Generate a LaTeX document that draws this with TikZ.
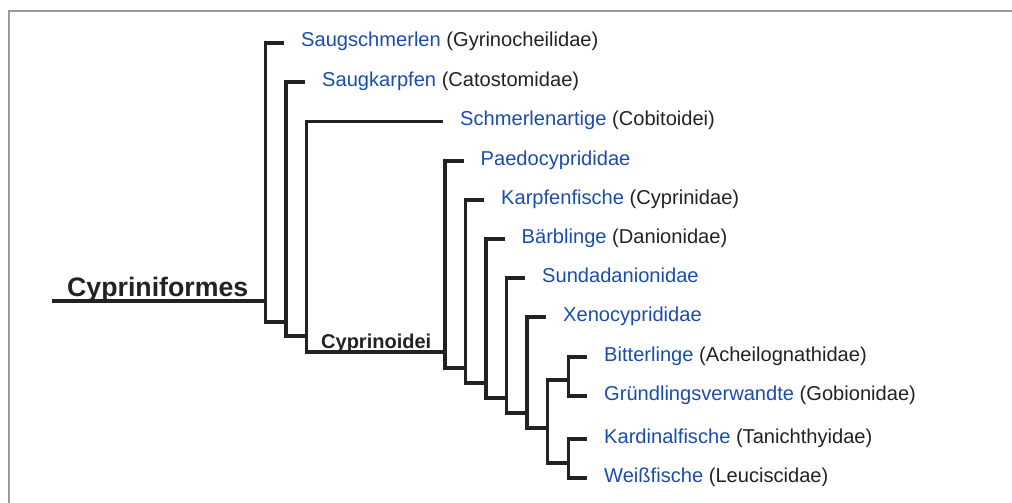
\documentclass[tikz,border=0pt]{standalone}
\usepackage{fontspec}
\setmainfont{Liberation Sans}
\usepackage{tikz}
\usetikzlibrary{positioning}
\definecolor{Frame}{HTML}{9A9A9A}
\definecolor{Ink}{HTML}{222222}
\definecolor{Taxon}{HTML}{1A4CAE}

\begin{document}
\begin{tikzpicture}[x=1pt,y=-1pt,node distance=17pt,
        branch/.style={draw=Ink,line width=3.3pt},
        taxon/.style={inner sep=0pt,text height=14pt,text depth=6pt,text=Ink,
          font=\fontsize{20.1}{22}\selectfont},
        clade/.style={inner sep=0pt,anchor=base west,text=Ink,font=\bfseries}]
        \useasboundingbox (0,0) rectangle (1012,503);
        \draw[Frame,line width=2pt] (9,503) -- (9,11.5) -- (1012,11.5);

        % leaf stubs
        \coordinate (s1) at (284,43);
        \coordinate (s2) at (305,82);
        \coordinate (s3) at (443,121.5);
        \coordinate (s4) at (463.5,161);
        \coordinate (s5) at (484,200);
        \coordinate (s6) at (504.5,239);
        \coordinate (s7) at (525,278);
        \coordinate (s8) at (546,317);
        \coordinate (s9) at (587,357);
        \coordinate (s10) at (587,396);
        \coordinate (s11) at (587,439);
        \coordinate (s12) at (587,478);
        % inner branch points
        \coordinate (r) at (52,301);
        \coordinate (b1) at (265.5,322);
        \coordinate (b2) at (286,336);
        \coordinate (b3) at (306.5,352);
        \coordinate (b4) at (445,368);
        \coordinate (b5) at (465.5,383);
        \coordinate (b6) at (486,398);
        \coordinate (b7) at (506.5,413);
        \coordinate (b8) at (527,428);
        \coordinate (t9) at (547.5,380);
        \coordinate (b9) at (547.5,463);
        \coordinate (u1) at (568.5,380);
        \coordinate (u2) at (568.5,463);

        \draw[branch] (r) -- (r -| b1);
        \draw[branch] (s1) -| (b1) -- (b1 -| b2);
        \draw[branch] (s2) -| (b2) -- (b2 -| b3);
        \draw[branch] (s3) -| (b3) -- (b3 -| b4);
        \draw[branch] (s4) -| (b4) -- (b4 -| b5);
        \draw[branch] (s5) -| (b5) -- (b5 -| b6);
        \draw[branch] (s6) -| (b6) -- (b6 -| b7);
        \draw[branch] (s7) -| (b7) -- (b7 -| b8);
        \draw[branch] (s8) -| (b8) -- (b8 -| b9);
        \draw[branch] (u1) -- (t9) -- (b9) -- (u2);
        \draw[branch] (s9) -| (u1) |- (s10);
        \draw[branch] (s11) -| (u2) |- (s12);

        \node[clade,font=\fontsize{26.7}{30}\selectfont\bfseries] (order) at (67,296) {Cypriniformes};
        \node[clade,font=\fontsize{20}{22}\selectfont\bfseries] (suborder) at (321,348) {Cyprinoidei};

        \node[taxon,right=of s1] (gyr) {\textcolor{Taxon}{Saugschmerlen} (Gyrinocheilidae)};
        \node[taxon,right=of s2] (cat) {\textcolor{Taxon}{Saugkarpfen} (Catostomidae)};
        \node[taxon,right=of s3] (cob) {\textcolor{Taxon}{Schmerlenartige} (Cobitoidei)};
        \node[taxon,right=of s4] (pae) {\textcolor{Taxon}{Paedocyprididae}};
        \node[taxon,right=of s5] (cyp) {\textcolor{Taxon}{Karpfenfische} (Cyprinidae)};
        \node[taxon,right=of s6] (dan) {\textcolor{Taxon}{Bärblinge} (Danionidae)};
        \node[taxon,right=of s7] (sun) {\textcolor{Taxon}{Sundadanionidae}};
        \node[taxon,right=of s8] (xen) {\textcolor{Taxon}{Xenocyprididae}};
        \node[taxon,right=of s9] (ach) {\textcolor{Taxon}{Bitterlinge} (Acheilognathidae)};
        \node[taxon,right=of s10] (gob) {\textcolor{Taxon}{Gründlingsverwandte} (Gobionidae)};
        \node[taxon,right=of s11] (tan) {\textcolor{Taxon}{Kardinalfische} (Tanichthyidae)};
        \node[taxon,right=of s12] (leu) {\textcolor{Taxon}{Weißfische} (Leuciscidae)};
      \end{tikzpicture}
\end{document}
